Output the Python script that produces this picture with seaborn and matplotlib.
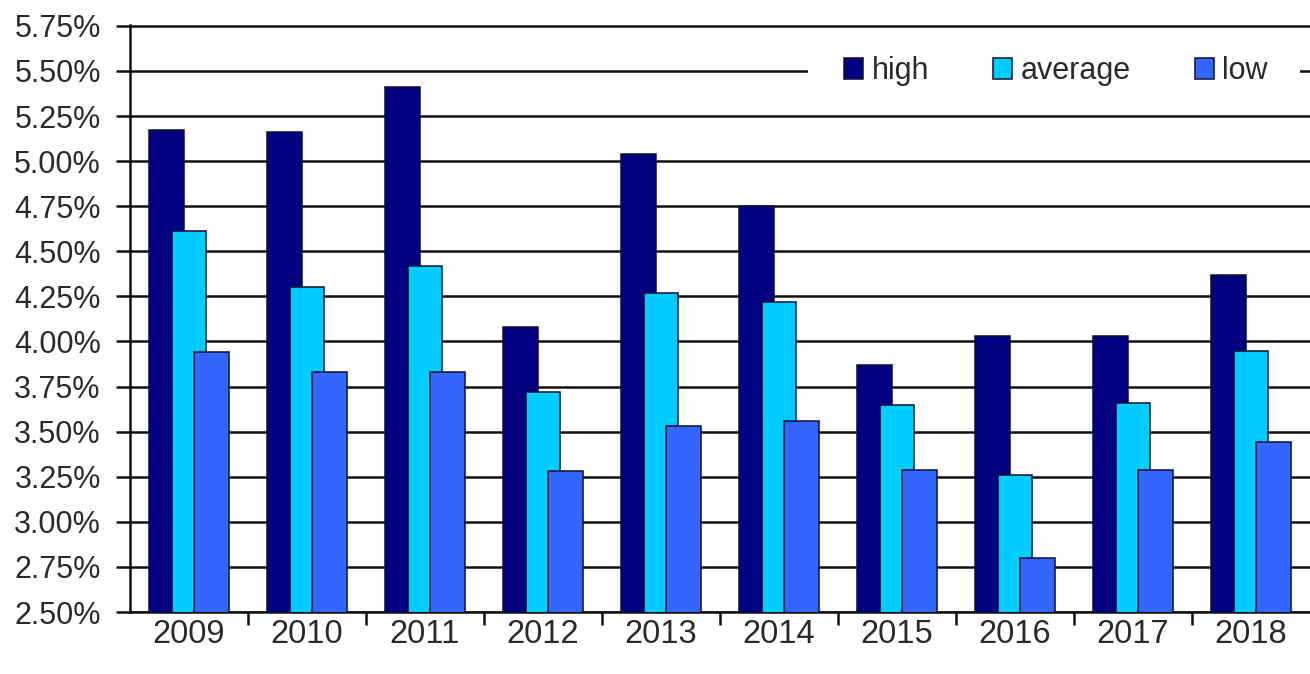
import matplotlib
matplotlib.use("Agg")
import matplotlib.pyplot as plt
import seaborn as sns
import pandas as pd
from matplotlib.ticker import FuncFormatter, FixedLocator
from matplotlib.patches import Patch, Rectangle

years = ["2009", "2010", "2011", "2012", "2013", "2014", "2015", "2016", "2017", "2018"]
high = [5.17, 5.16, 5.41, 4.08, 5.04, 4.75, 3.87, 4.03, 4.03, 4.37]
average = [4.61, 4.30, 4.42, 3.72, 4.27, 4.22, 3.65, 3.26, 3.66, 3.95]
low = [3.94, 3.83, 3.83, 3.28, 3.53, 3.56, 3.29, 2.80, 3.29, 3.44]
series = ["high", "average", "low"]
colors = ["#000080", "#00CCFF", "#3366FF"]

df = pd.DataFrame({
    "year": years * 3,
    "value": high + average + low,
    "series": ["high"] * len(years) + ["average"] * len(years) + ["low"] * len(years),
})

sns.set_style("white")
plt.rcParams["font.family"] = ["Liberation Sans", "DejaVu Sans"]

fig = plt.figure(figsize=(13.1, 6.74), dpi=100)
ax = fig.add_axes([130 / 1310, 1 - 612 / 674, 1 - 130 / 1310, (612 - 25) / 674])

sns.barplot(data=df, x="year", y="value", hue="series", hue_order=series,
            palette=colors, width=0.57, gap=-0.56, edgecolor="#10102a",
            linewidth=1.1, saturation=1, legend=False, ax=ax, zorder=3)

ax.set_xlim(-0.5, 9.5)
ax.set_ylim(2.5, 5.755)
yt = [2.5 + 0.25 * i for i in range(14)]
ax.yaxis.set_major_locator(FixedLocator(yt))
ax.yaxis.set_major_formatter(FuncFormatter(lambda v, p: f"{v:.2f}%"))
ax.grid(axis="y", color="#111111", linewidth=1.8, zorder=0)
ax.set_axisbelow(True)
for s in ["top", "right"]:
    ax.spines[s].set_visible(False)
for s in ["left", "bottom"]:
    ax.spines[s].set_color("#111111")
    ax.spines[s].set_linewidth(1.8)

ax.xaxis.set_minor_locator(FixedLocator([i + 0.5 for i in range(9)]))
ax.tick_params(axis="x", which="major", length=0, pad=5, labelsize=23.5, labelcolor="#2a2a2a")
ax.tick_params(axis="x", which="minor", length=9, width=1.8, color="#111111", direction="out", bottom=True)
ax.tick_params(axis="y", which="major", length=10, width=1.8, color="#111111", direction="out",
               left=True, pad=11, labelsize=22, labelcolor="#2a2a2a")
ax.set_xlabel("")
ax.set_ylabel("")

# white legend background box (interrupts the 5.50% gridline)
fig.add_artist(Rectangle((808 / 1310, 1 - 95 / 674), (1300 - 808) / 1310, 47 / 674,
                         transform=fig.transFigure, facecolor="white", edgecolor="none", zorder=5))

handles = [Patch(facecolor=c, edgecolor="#10102a", linewidth=1.1, label=l) for c, l in zip(colors, series)]
leg = fig.legend(handles=handles, loc="center", bbox_to_anchor=(1056 / 1310, 1 - 71 / 674),
                 ncol=3, frameon=False, fontsize=22, handlelength=0.62, handleheight=0.7,
                 handletextpad=0.28, columnspacing=2.1, borderpad=0.3, labelcolor="#2a2a2a")
leg.set_zorder(10)

fig.savefig("out.png", dpi=100)
